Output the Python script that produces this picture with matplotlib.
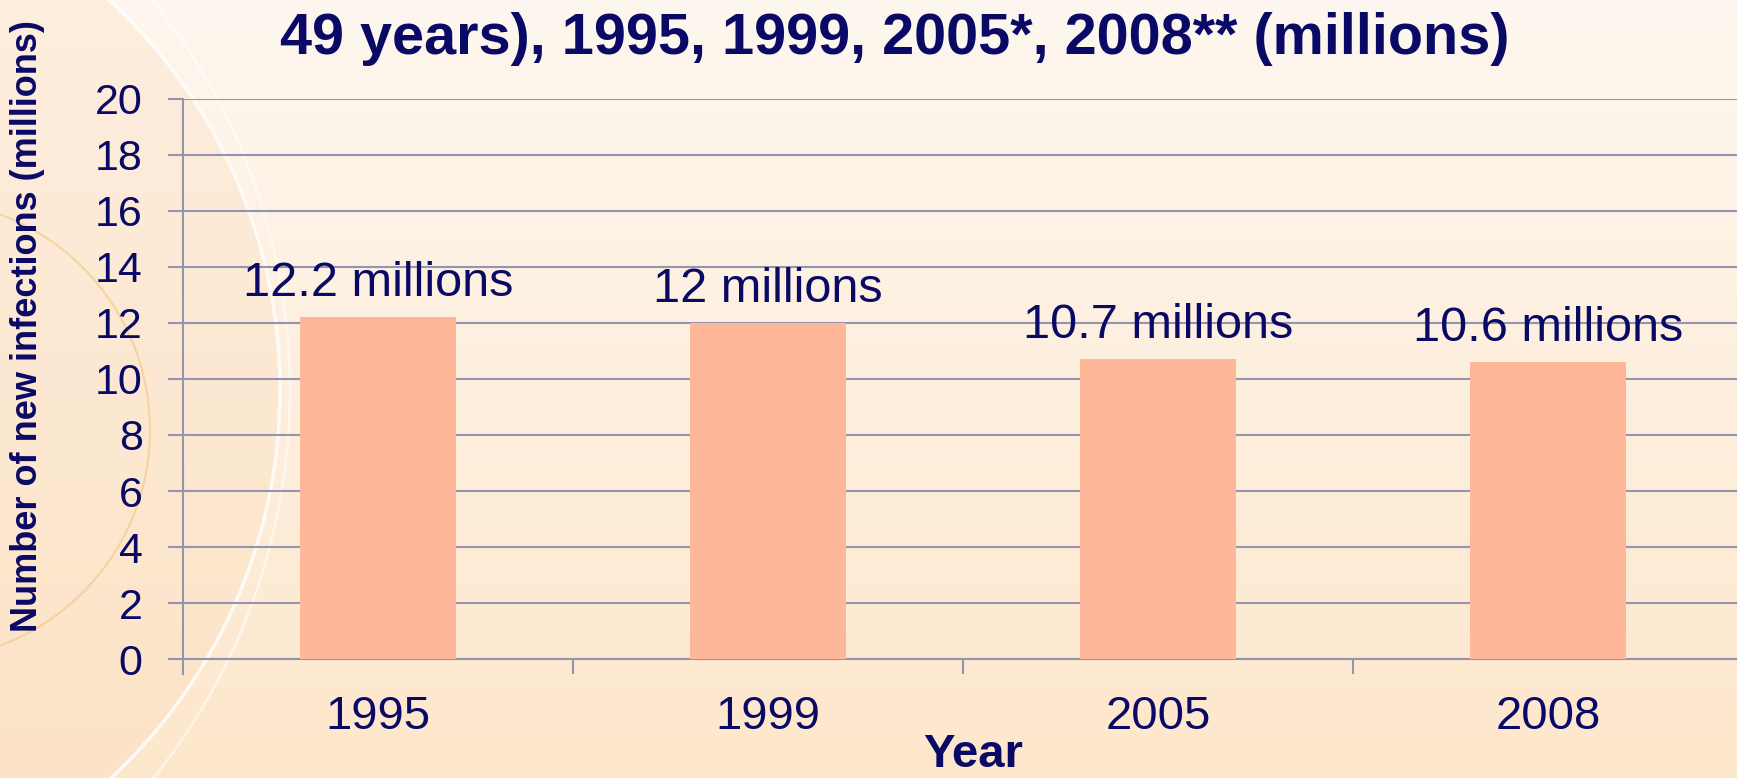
import numpy as np
import matplotlib.pyplot as plt
from matplotlib.patches import Circle

years = ["1995", "1999", "2005", "2008"]
infections = [12.2, 12.0, 10.7, 10.6]
bar_labels = ["12.2 millions", "12 millions", "10.7 millions", "10.6 millions"]
yticks = [0, 2, 4, 6, 8, 10, 12, 14, 16, 18, 20]

navy = "#0A0A66"
grid_col = "#9494B0"
bar_col = "#FFB799"

plt.rcParams['font.family'] = ['Liberation Sans', 'DejaVu Sans']

fig = plt.figure(figsize=(17.37, 7.78), dpi=100)

# background: soft peach gradient with a faint globe on the left
bg = fig.add_axes([0, 0, 1, 1], zorder=0)
h, w = 200, 400
yy, xx = np.mgrid[0:h, 0:w]
t = yy / (h - 1)
top = np.array([254, 247, 239]) / 255
bot = np.array([253, 231, 204]) / 255
img = top[None, None, :] * (1 - t[..., None]) + bot[None, None, :] * t[..., None]
bg.imshow(img, extent=[0, 1737, 778, 0], aspect='auto')
bg.set_xlim(0, 1737)
bg.set_ylim(778, 0)
bg.add_patch(Circle((-250, 390), 530, facecolor="#FBDDBE", edgecolor="none", alpha=0.35))
bg.add_patch(Circle((-250, 390), 530, facecolor="none", edgecolor="#FFFFFF", lw=2.5, alpha=0.8))
bg.add_patch(Circle((-330, 390), 620, facecolor="none", edgecolor="#FFFFFF", lw=2, alpha=0.5))
bg.add_patch(Circle((-80, 430), 230, facecolor="none", edgecolor="#F2CB8E", lw=1.5, alpha=0.7))
bg.axis('off')

ax = fig.add_axes([0.10535, 0.1526, 0.8981, 0.7207], zorder=1)
ax.patch.set_alpha(0)
x = np.arange(len(years))
ax.bar(x, infections, width=0.4, color=bar_col, zorder=3)
for xi, v, lab in zip(x, infections, bar_labels):
    ax.text(xi, v + 0.75, lab, ha='center', va='baseline', fontsize=35, color=navy, zorder=4)

ax.set_xlim(-0.5, 3.5)
ax.set_ylim(0, 20)
ax.set_yticks(yticks)
ax.set_yticklabels([str(v) for v in yticks], fontsize=31, color=navy)
ax.set_xticks(x)
ax.set_xticklabels(years, fontsize=34, color=navy)
ax.set_xticks([0.5, 1.5, 2.5], minor=True)
ax.tick_params(axis='x', which='major', length=0, pad=26)
ax.tick_params(axis='x', which='minor', length=11, color=grid_col, width=1.5)
ax.tick_params(axis='y', length=11, color=grid_col, width=1.5, pad=18)
ax.yaxis.grid(True, color=grid_col, lw=1.5, zorder=1)
for s in ['top', 'right']:
    ax.spines[s].set_visible(False)
ax.spines['left'].set_color(grid_col)
ax.spines['bottom'].set_color(grid_col)
ax.spines['left'].set_linewidth(1.5)
ax.spines['bottom'].set_linewidth(1.5)
ax.spines['left'].set_bounds(-0.53, 20)

fig.text(28 / 1737, 1 - 326 / 778, "Number of new infections (millions)", rotation=90,
         ha='center', va='center', fontsize=26, fontweight='bold', color=navy)
fig.text(973 / 1737, 1 / 778, "Year", ha='center', va='bottom',
         fontsize=34, fontweight='bold', color=navy)

fig.text(0.515, 0.985, "49 years), 1995, 1999, 2005*, 2008** (millions)", ha='center', va='top',
         fontsize=41.5, fontweight='bold', color=navy)

fig.savefig("out.png", dpi=100)
